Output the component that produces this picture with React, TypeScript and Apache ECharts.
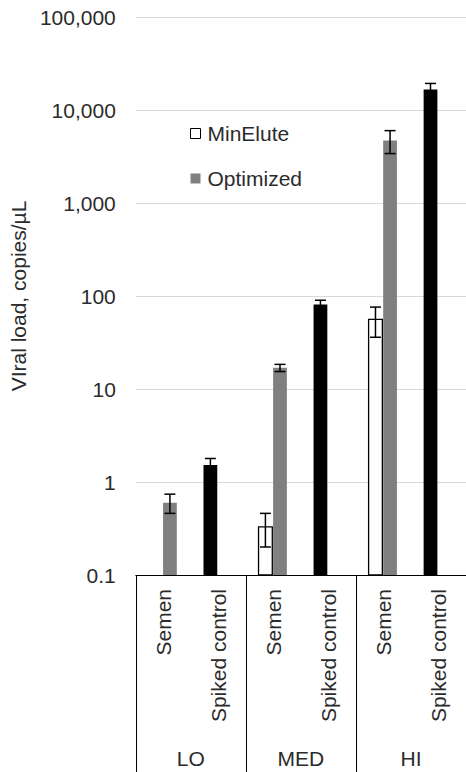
import React, { useEffect, useRef } from "react";
import * as echarts from "echarts";

const subCategories = ["Semen", "Spiked control", "Semen", "Spiked control", "Semen", "Spiked control"];
const groupLabels = ["LO", "MED", "HI"];
const yTickLabels = ["0.1", "1", "10", "100", "1,000", "10,000", "100,000"];

// values (copies/µL) and error (±) per sub-category; null = no bar
const minEluteValues = [null, null, 0.33, null, 56, null];
const minEluteErrors = [null, null, 0.13, null, 20, null];
const optimizedValues = [0.6, null, 16.9, null, 4700, null];
const optimizedErrors = [0.14, null, 1.5, null, 1300, null];
const spikedValues = [null, 1.52, null, 81, null, 16600];
const spikedErrors = [null, 0.27, null, 9, null, 2700];

const FONT = "'Liberation Sans', Arial, sans-serif";
const TEXT = "#2b2b2b";
const Y_MIN = 0.1;

function toData(values: (number | null)[], errors: (number | null)[]) {
  const out: any[] = [];
  values.forEach((v, i) => {
    if (v != null) out.push([i, v, errors[i] ?? 0]);
  });
  return out;
}

function makeRender(slot: number, fill: string, stroke: string | null) {
  return (params: any, api: any) => {
    const idx = api.value(0);
    const v = api.value(1);
    const e = api.value(2);
    const band = api.size([1, 0], [idx, 1])[0];
    const w = band * 0.25;
    const base = api.coord([idx, Y_MIN]);
    const top = api.coord([idx, v]);
    const cx = base[0] + slot * band;
    const children: any[] = [
      {
        type: "rect",
        shape: { x: cx - w / 2, y: top[1], width: w, height: base[1] - top[1] },
        style: stroke
          ? { fill, stroke, lineWidth: 1.3 }
          : { fill },
      },
    ];
    if (e > 0) {
      const hi = api.coord([idx, v + e])[1];
      const lo = api.coord([idx, Math.max(v - e, Y_MIN)])[1];
      const cap = 5.5;
      const es = { stroke: "#000", lineWidth: 1.5 };
      children.push(
        { type: "line", shape: { x1: cx, y1: hi, x2: cx, y2: lo }, style: es },
        { type: "line", shape: { x1: cx - cap, y1: hi, x2: cx + cap, y2: hi }, style: es },
        { type: "line", shape: { x1: cx - cap, y1: lo, x2: cx + cap, y2: lo }, style: es }
      );
    }
    return { type: "group", children };
  };
}

export default function App() {
  const ref = useRef<HTMLDivElement>(null);
  useEffect(() => {
    if (!ref.current) return;
    const chart = echarts.init(ref.current, undefined, { renderer: "svg" });
    chart.setOption({
      animation: false,
      textStyle: { fontFamily: FONT },
      grid: { left: 132, right: -5, top: 17, bottom: 197, containLabel: false },
      legend: {
        orient: "vertical",
        left: 190,
        top: 123,
        padding: 0,
        itemWidth: 10,
        itemHeight: 10,
        itemGap: 24,
        textStyle: { fontSize: 21, color: TEXT, fontFamily: FONT, padding: [0, 0, 0, 2] },
        data: [
          { name: "MinElute", icon: "rect", itemStyle: { color: "#ffffff", borderColor: "#000", borderWidth: 1 } },
          { name: "Optimized", icon: "rect", itemStyle: { color: "#808080", borderWidth: 0 } },
        ],
      },
      xAxis: [
        {
          type: "category",
          position: "bottom",
          data: subCategories.map((s, i) => s + "#" + i),
          axisLine: { show: false },
          axisTick: { show: false },
          axisLabel: {
            interval: 0,
            rotate: 90,
            margin: 14,
            fontSize: 21,
            color: TEXT,
            fontFamily: FONT,
            formatter: (_v: string, i: number) => subCategories[i],
          },
        },
        {
          type: "category",
          position: "bottom",
          data: groupLabels,
          axisLine: { show: true, lineStyle: { color: "#000", width: 1 } },
          axisTick: { show: true, length: 200, lineStyle: { color: "#000", width: 1 } },
          axisLabel: { interval: 0, margin: 173, fontSize: 21, color: TEXT, fontFamily: FONT },
        },
      ],
      yAxis: {
        type: "log",
        logBase: 10,
        min: 0.1,
        max: 100000,
        name: "VIral load, copies/µL",
        nameLocation: "middle",
        nameGap: 100,
        nameTextStyle: { fontSize: 21, color: TEXT, fontFamily: FONT },
        axisLine: { show: false },
        axisTick: { show: false },
        axisLabel: {
          margin: 20,
          fontSize: 21,
          color: TEXT,
          fontFamily: FONT,
          formatter: (v: number) => yTickLabels[Math.round(Math.log10(v)) + 1] ?? "",
        },
        splitLine: { show: true, lineStyle: { color: "#d9d9d9", width: 1 } },
      },
      series: [
        {
          name: "MinElute",
          type: "custom",
          xAxisIndex: 0,
          itemStyle: { color: "#ffffff", borderColor: "#000" },
          renderItem: makeRender(-0.145, "#ffffff", "#000000"),
          data: toData(minEluteValues, minEluteErrors),
          encode: { x: 0, y: 1 },
        },
        {
          name: "Optimized",
          type: "custom",
          xAxisIndex: 0,
          itemStyle: { color: "#808080" },
          renderItem: makeRender(0.12, "#808080", null),
          data: toData(optimizedValues, optimizedErrors),
          encode: { x: 0, y: 1 },
        },
        {
          name: "Spiked",
          type: "custom",
          xAxisIndex: 0,
          itemStyle: { color: "#000000" },
          renderItem: makeRender(-0.145, "#000000", null),
          data: toData(spikedValues, spikedErrors),
          encode: { x: 0, y: 1 },
        },
      ],
    });
    return () => chart.dispose();
  }, []);
  return (
    <div
      ref={ref}
      style={{ position: "fixed", left: 0, top: 0, width: 466, height: 772, background: "#fff" }}
    />
  );
}
